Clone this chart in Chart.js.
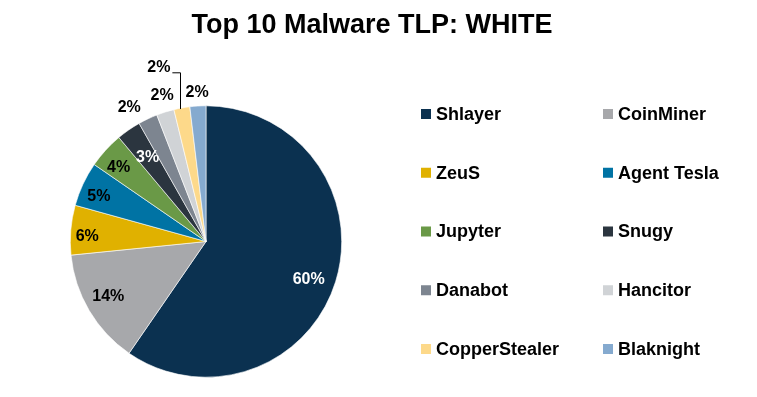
<!DOCTYPE html>
<html>
<head>
<meta charset="utf-8">
<title>Top 10 Malware TLP: WHITE</title>
<script src="https://cdn.jsdelivr.net/npm/chart.js@4.4.1/dist/chart.umd.min.js"></script>
<style>
  html, body { margin: 0; padding: 0; background: #ffffff; }
  #wrap { width: 757px; height: 397px; }
</style>
</head>
<body>
<div id="wrap"><canvas id="malware" width="757" height="397"></canvas></div>
<script>
//Datos
    var titulo = "Top 10 Malware TLP: WHITE";
    var familias = ["Shlayer", "CoinMiner", "ZeuS", "Agent Tesla", "Jupyter",
        "Snugy", "Danabot", "Hancitor", "CopperStealer", "Blaknight"];
    var porcentajes = [59.6, 13.8, 5.9, 5.3, 4.3, 2.9, 2.3, 2.1, 1.9, 1.9];
    var colores = ["#0b3150", "#a7a8ab", "#e0b100", "#0073a4", "#6a9947",
        "#2b353f", "#7d8590", "#d0d3d6", "#fdd98a", "#85aacf"];

//Estilo de las etiquetas (radio relativo, giro en grados, color)
    var etqRadio = [0.807, 0.826, 0.876, 0.855, 0.845, 0.756, 1.136, 1.121, 1.33, 1.10];
    var etqGiro = [3, 1.3, -2.3, -2.5, -1.9, 0, -4.5, 0.7, -4.9, 0];
    var etqColor = ["#ffffff", "#000000", "#000000", "#000000", "#000000",
        "#ffffff", "#000000", "#000000", "#000000", "#000000"];
    var conLinea = 8; //índice de la etiqueta con línea guía

    var fuente = "'Liberation Sans', Arial, sans-serif";

//Plugin: título, etiquetas de porcentaje y leyenda en dos columnas
    var extras = {
        id: "extras",
        afterDraw: function(chart){
            var ctx = chart.ctx;
            var meta = chart.getDatasetMeta(0);
            var datos = chart.data.datasets[0].data;
            var total = datos.reduce(function(a, b){ return a + b; }, 0);
            ctx.save();

            //Título
            ctx.fillStyle = "#000000";
            ctx.font = "bold 27px " + fuente;
            ctx.textAlign = "center";
            ctx.textBaseline = "alphabetic";
            ctx.fillText(titulo, 372, 33);

            //Etiquetas
            ctx.font = "bold 16px " + fuente;
            ctx.textBaseline = "middle";
            meta.data.forEach(function(arco, i){
                var p = arco.getProps(["x", "y", "startAngle", "endAngle", "outerRadius"], true);
                var medio = (p.startAngle + p.endAngle) / 2;
                var ang = medio + etqGiro[i] * Math.PI / 180;
                var r = p.outerRadius * etqRadio[i];
                var tx = p.x + Math.cos(ang) * r;
                var ty = p.y + Math.sin(ang) * r;
                var txt = Math.round(datos[i] / total * 100) + "%";
                ctx.fillStyle = etqColor[i];
                ctx.fillText(txt, tx, ty);
                if(i == conLinea){
                    var ax = p.x + Math.cos(medio) * p.outerRadius;
                    var ay = p.y + Math.sin(medio) * p.outerRadius;
                    var w = ctx.measureText(txt).width;
                    ctx.strokeStyle = "#000000";
                    ctx.lineWidth = 1;
                    ctx.beginPath();
                    ctx.moveTo(tx + w / 2 + 2, ty + 5.5);
                    ctx.lineTo(Math.round(ax) - 1.5, ty + 5.5);
                    ctx.lineTo(Math.round(ax) - 1.5, ay + 1);
                    ctx.stroke();
                }
            });

            //Leyenda
            ctx.font = "bold 18px " + fuente;
            ctx.textAlign = "left";
            ctx.textBaseline = "middle";
            chart.data.labels.forEach(function(nombre, i){
                var col = i % 2, fila = Math.floor(i / 2);
                var x = col == 0 ? 421 : 603;
                var y = 114 + fila * 58.75;
                ctx.fillStyle = colores[i];
                ctx.fillRect(x, y - 5, 10, 10);
                ctx.fillStyle = "#000000";
                ctx.fillText(nombre, x + 15, y + 1);
            });
            ctx.restore();
        }
    };

    var grafico = new Chart(document.getElementById("malware"), {
        type: "pie",
        data: {
            labels: familias,
            datasets: [{
                data: porcentajes,
                backgroundColor: colores,
                borderColor: "#ffffff",
                borderWidth: 0.6
            }]
        },
        options: {
            responsive: false,
            animation: false,
            devicePixelRatio: 1,
            layout: { padding: { left: 70, right: 415, top: 105, bottom: 19 } },
            plugins: {
                legend: { display: false },
                title: { display: false },
                tooltip: { enabled: false }
            }
        },
        plugins: [extras]
    });
</script>
</body>
</html>
